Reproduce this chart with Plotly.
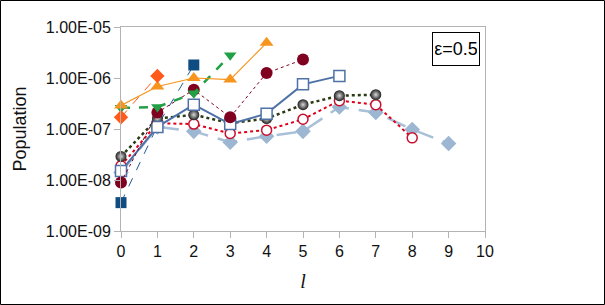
import plotly.graph_objects as go

l_vals = list(range(11))
x_ticks = [str(i) for i in range(11)]
y_tick_vals = [1e-9, 1e-8, 1e-7, 1e-6, 1e-5]
y_tick_text = ["1.00E-09", "1.00E-08", "1.00E-07", "1.00E-06", "1.00E-05"]

dark_blue_square = [3.6e-9, 1.15e-7, 1.8e-6]
light_diamond = [1.4e-8, 1.1e-7, 9.0e-8, 5.5e-8, 7.2e-8, 9.0e-8, 2.7e-7, 2.1e-7, 9.8e-8, 5.2e-8]
red_circle = [1.9e-8, 1.3e-7, 1.25e-7, 8.2e-8, 9.5e-8, 1.55e-7, 3.6e-7, 3.0e-7, 6.7e-8]
gray_sphere = [2.9e-8, 1.6e-7, 1.9e-7, 1.3e-7, 1.6e-7, 3.0e-7, 4.5e-7, 4.7e-7]
steel_square = [1.5e-8, 1.1e-7, 3.0e-7, 1.25e-7, 2.0e-7, 7.5e-7, 1.1e-6]
dark_red_circle = [8.9e-9, 2.1e-7, 5.9e-7, 1.7e-7, 1.25e-6, 2.3e-6]
green_triangle = [2.6e-7, 2.7e-7, 5.0e-7, 2.8e-6]
orange_triangle = [2.9e-7, 6.8e-7, 1.0e-6, 9.3e-7, 4.9e-6]
orange_diamond = [1.7e-7, 1.1e-6]

fig = go.Figure()

def add(vals, color, dash, width, symbol, size, mcolor, mline=None, grad=None):
    marker = dict(symbol=symbol, size=size, color=mcolor,
                  line=dict(color=mline or mcolor, width=1.5 if mline else 0))
    if grad:
        marker["gradient"] = dict(type="radial", color=grad)
    fig.add_trace(go.Scatter(x=l_vals[:len(vals)], y=vals, mode="lines+markers",
                             line=dict(color=color, dash=dash, width=width),
                             marker=marker, showlegend=False, cliponaxis=False))

add(dark_blue_square, "#1F5A99", "dash", 1, "square", 11, "#0F4C81")
add(light_diamond, "#A9C0D9", "20px,10px", 2.5, "diamond", 12, "#9DB7D3")
add(red_circle, "#E0001B", "dot", 2, "circle", 10, "white", mline="#C8102E")
add(gray_sphere, "#2A3A12", "dot", 2.5, "circle", 11, "#1E1E1E", grad="#D8D8D8")
add(steel_square, "#4F72A6", "solid", 2, "square", 11, "white", mline="#4F72A6")
add(dark_red_circle, "#800020", "dot", 1, "circle", 12, "#800020")
add(green_triangle, "#22A045", "dash", 2.5, "triangle-down", 11, "#22A045")
add(orange_triangle, "#F7941D", "solid", 1.2, "triangle-up", 12, "#F7941D")
add(orange_diamond, "#FF5A1A", "dash", 1, "diamond", 11, "#FF5A1A")

W, H = 605, 305
ML, MR, MT, MB = 121, 120, 27, 74
PW, PH = W - ML - MR, H - MT - MB

fig.update_layout(
    width=W, height=H,
    margin=dict(l=ML, r=MR, t=MT, b=MB),
    paper_bgcolor="white", plot_bgcolor="white",
    font=dict(family="Liberation Sans, Arial", color="#111", size=16),
    xaxis=dict(range=[0, 10], tickvals=l_vals, ticktext=x_ticks,
               showline=True, linecolor="#B3B3B3", linewidth=1, mirror=True,
               ticks="outside", tickcolor="#B3B3B3", ticklen=6,
               showgrid=False, zeroline=False,
               title=dict(text="<i>l</i>", font=dict(size=20, family="Liberation Serif, DejaVu Serif"), standoff=14)),
    yaxis=dict(type="log", range=[-9, -5], tickvals=y_tick_vals, ticktext=y_tick_text,
               showline=True, linecolor="#B3B3B3", linewidth=1, mirror=True,
               ticks="outside", tickcolor="#B3B3B3", ticklen=6,
               showgrid=False, zeroline=False,
               title=dict(text="Population", font=dict(size=18), standoff=14)),
    annotations=[dict(x=(480 - ML) / PW, y=1 - (32 - MT) / PH, xref="paper", yref="paper",
                      xanchor="right", yanchor="top",
                      text="ε=0.5", showarrow=False, font=dict(size=18, color="black"),
                      width=42, height=28, align="center", valign="middle",
                      bordercolor="black", borderwidth=1, borderpad=2, bgcolor="white")],
)
fig.add_shape(type="rect", xref="paper", yref="paper",
              x0=-(ML - 0.5) / PW, y0=-(MB - 0.5) / PH,
              x1=1 + (MR - 0.5) / PW, y1=1 + (MT - 0.5) / PH,
              line=dict(color="black", width=1))

fig.write_html("out.html", config={"displayModeBar": False},
               post_script="document.body.style.margin='0';document.body.style.overflow='hidden';")
